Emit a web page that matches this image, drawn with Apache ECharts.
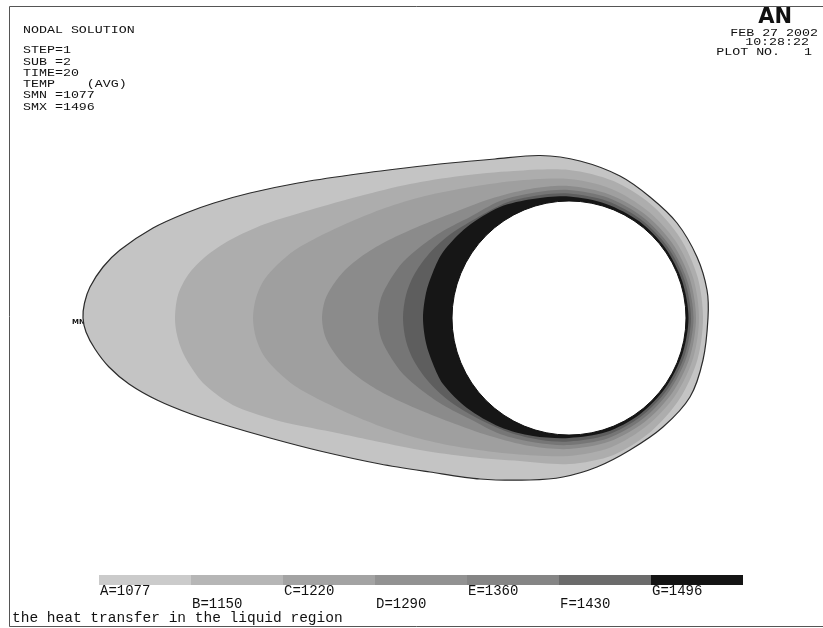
<!DOCTYPE html>
<html><head><meta charset="utf-8">
<script src="https://cdn.jsdelivr.net/npm/echarts@6/dist/echarts.min.js"></script>
<style>html,body{margin:0;padding:0;background:#fff}#c{width:823px;height:628px}</style>
</head><body><div id="c"></div>
<script>
// ---- legend / contour levels ----
const bandNames = ['A','B','C','D','E','F','G'];
const bandValues = [1077,1150,1220,1290,1360,1430,1496];
const bandColors = ['#c4c4c4','#adadad','#9f9f9f','#8b8b8b','#767676','#5e5e5e','#161616'];
const legendColors = ['#cbcbcb','#b6b6b6','#a3a3a3','#929292','#858585','#6b6b6b','#141414'];

// ---- contour boundaries (model units, hole centre at 0,0) ----
const contourA = [[-48.6,0],[-48.45,1.5],[-47.9,3.1],[-46.6,5.1],[-44.9,6.8],[-41.6,9.0],[-38.3,10.5],[-35.5,11.5],[-31.9,12.5],[-27.1,13.5],[-21.9,14.3],[-16.4,15.0],[-11.9,15.5],[-7.4,15.9],[-2.9,16.25],[1.1,15.7],[5.1,14.2],[8.1,12.1],[10.8,9.5],[12.8,6.1],[13.8,2.8],[13.9,0],[13.4,-4.2],[12.1,-7.9],[9.4,-10.9],[6.1,-13.2],[2.8,-14.9],[-0.6,-15.9],[-3.9,-16.2],[-8.9,-16.1],[-13.9,-15.4],[-18.9,-14.6],[-24.9,-13.3],[-29.9,-12.0],[-34.4,-10.7],[-37.8,-9.6],[-41.2,-8.2],[-44.0,-6.6],[-46.0,-4.9],[-47.4,-3.1],[-48.3,-1.4]];
const contourB = [[-39.4,0],[-39.1,2.3],[-38.1,4.3],[-36.4,6.1],[-33.9,7.8],[-30.4,9.4],[-25.9,10.8],[-20.9,12.2],[-15.9,13.4],[-10.9,14.2],[-5.5,14.7],[0,14.8],[4.45,13.69],[8.23,11.33],[11.08,8.06],[12.84,4.17],[13.4,0],[12.84,-4.17],[11.08,-8.06],[8.23,-11.33],[4.45,-13.69],[0,-14.6],[-4.9,-14.3],[-9.9,-13.9],[-14.9,-13.2],[-19.9,-12.2],[-23.2,-11.5],[-28.2,-10.5],[-30.7,-9.8],[-33.2,-8.9],[-34.9,-7.9],[-36.6,-6.5],[-37.6,-5.2],[-38.6,-3.5],[-39.2,-1.7]];
const contourC = [[-31.6,0],[-31.3,2.0],[-30.5,3.8],[-29.2,5.3],[-27.4,6.8],[-24.9,8.2],[-21.9,9.6],[-18.4,11.0],[-14.4,12.2],[-10.4,13.0],[-5.5,13.7],[0,13.9],[4.20,12.93],[7.82,10.76],[10.64,7.73],[12.41,4.03],[13.0,0],[12.41,-4.03],[10.64,-7.73],[7.82,-10.76],[4.20,-12.93],[0,-13.8],[-5.5,-13.6],[-10.4,-13.0],[-14.4,-12.2],[-18.4,-11.0],[-21.9,-9.6],[-24.9,-8.2],[-27.4,-6.8],[-29.2,-5.3],[-30.5,-3.8],[-31.3,-2.0]];
const contourD = [[-24.7,0],[-24.4,1.8],[-23.6,3.3],[-22.4,4.8],[-20.7,6.2],[-18.4,7.6],[-15.4,9.0],[-11.9,10.4],[-7.9,11.9],[-3.9,12.9],[0,13.2],[4.02,12.36],[7.56,10.40],[10.31,7.50],[12.08,3.92],[12.7,0],[12.08,-3.92],[10.31,-7.50],[7.56,-10.40],[4.02,-12.36],[0,-13.1],[-3.9,-12.8],[-7.9,-11.8],[-11.9,-10.4],[-15.4,-9.0],[-18.4,-7.6],[-20.7,-6.2],[-22.4,-4.8],[-23.6,-3.3],[-24.4,-1.8]];
const contourE = [[-19.1,0],[-18.8,2.0],[-17.9,3.8],[-16.6,5.6],[-14.9,7.1],[-12.6,8.7],[-9.9,10.1],[-6.9,11.7],[-3.4,12.55],[0,12.8],[3.91,12.03],[7.35,10.11],[10.03,7.29],[11.79,3.83],[12.45,0],[11.79,-3.83],[10.03,-7.29],[7.35,-10.11],[3.91,-12.03],[0,-12.7],[-3.4,-12.45],[-6.9,-11.6],[-9.9,-10.1],[-12.6,-8.7],[-14.9,-7.1],[-16.6,-5.6],[-17.9,-3.8],[-18.8,-2.0]];
const contourF = [[-16.6,0],[-16.3,2.3],[-15.5,4.3],[-14.1,6.3],[-12.1,8.2],[-9.4,9.9],[-6.1,11.6],[-2.8,12.3],[0,12.45],[3.80,11.70],[7.17,9.87],[9.83,7.14],[11.56,3.75],[12.2,0],[11.56,-3.75],[9.83,-7.14],[7.17,-9.87],[3.80,-11.70],[0,-12.35],[-2.8,-12.2],[-6.1,-11.4],[-9.4,-9.9],[-12.1,-8.2],[-14.1,-6.3],[-15.5,-4.3],[-16.3,-2.3]];
const contourG = [[-14.6,0],[-14.3,2.5],[-13.6,4.6],[-12.6,6.6],[-10.2,9.1],[-6.9,11.1],[-3.6,11.9],[0,12.15],[3.71,11.41],[7.03,9.67],[9.63,7.00],[11.32,3.68],[11.95,0],[11.32,-3.68],[9.63,-7.00],[7.03,-9.67],[3.71,-11.41],[0,-12.0],[-3.6,-11.8],[-6.9,-10.9],[-10.2,-9.0],[-12.6,-6.6],[-13.6,-4.6],[-14.3,-2.5]];
const contours = [contourA, contourB, contourC, contourD, contourE, contourF, contourG];
const hole = [0, 0, 11.7]; // centre x, centre y, radius

// ---- header texts ----
const headerLeft = ['STEP=1','SUB =2','TIME=20','TEMP    (AVG)','SMN =1077','SMX =1496'];
const headerRight = ['FEB 27 2002','10:28:22','PLOT NO.   1'];

const PX = 10; // pixels per model unit
const CX = 569, CY = 318; // pixel position of the hole centre
const W = 823, H = 628;

const chart = echarts.init(document.getElementById('c'), null, {renderer:'canvas'});
const mono = 'Liberation Mono';
const hdrFont = '13.3px "' + mono + '"';

const graphics = [
  {type:'rect', shape:{x:9.5, y:6.5, width:830, height:620}, style:{fill:null, stroke:'#555', lineWidth:1}, z:0, silent:true},
  {type:'text', x:23, y:30, scaleY:0.82, style:{text:'NODAL SOLUTION', font:hdrFont, fill:'#111', textVerticalAlign:'middle'}},
  {type:'text', x:792, y:18, style:{text:'AN', font:'900 21px "DejaVu Sans"', fill:'#111', textAlign:'right', textVerticalAlign:'middle'}},
  {type:'text', x:72, y:322, style:{text:'MN', font:'bold 7px "DejaVu Sans"', fill:'#111', textVerticalAlign:'middle'}},
  {type:'text', x:12, y:618, style:{text:'the heat transfer in the liquid region', font:'14.5px "'+mono+'"', fill:'#111', textVerticalAlign:'middle'}}
];
const leftY = [50,62,73,84,95,107];
headerLeft.forEach((t,i)=>graphics.push({type:'text', x:23, y:leftY[i], scaleY:0.82, style:{text:t, font:hdrFont, fill:'#111', textVerticalAlign:'middle'}}));
const rightY = [33,42,52];
const rightX = [818,809,812];
headerRight.forEach((t,i)=>graphics.push({type:'text', x:rightX[i], y:rightY[i], scaleY:0.78, style:{text:t, font:hdrFont, fill:'#111', textAlign:'right', textVerticalAlign:'middle'}}));

const option = {
  animation:false,
  backgroundColor:'#fff',
  grid:[
    {left:0, top:0, width:W, height:H},
    {left:99, top:575, width:644, height:10}
  ],
  xAxis:[
    {type:'value', gridIndex:0, min:-CX/PX, max:(W-CX)/PX, show:false},
    {type:'category', gridIndex:1, data:bandNames, show:false}
  ],
  yAxis:[
    {type:'value', gridIndex:0, min:-(H-CY)/PX, max:CY/PX, show:false},
    {type:'value', gridIndex:1, min:0, max:1, show:false}
  ],
  graphic:graphics,
  series:[
    {
      type:'custom', xAxisIndex:0, yAxisIndex:0, clip:false, silent:true,
      data: contours.map((c,i)=>[c[0][0], c[0][1], i]),
      renderItem:(params, api)=>{
        const i = api.value(2);
        const pts = contours[i].map(p=>api.coord(p));
        return {type:'polygon', shape:{points:pts, smooth:0.3},
          style:{fill:bandColors[i], stroke: i===0 ? '#2b2b2b' : null, lineWidth: i===0 ? 1.2 : 0}};
      }
    },
    {
      type:'custom', xAxisIndex:0, yAxisIndex:0, clip:false, silent:true,
      data:[hole],
      renderItem:(params, api)=>{
        const c = api.coord([api.value(0), api.value(1)]);
        const r = api.size([api.value(2), 0])[0];
        return {type:'circle', shape:{cx:c[0], cy:c[1], r:r}, style:{fill:'#fff', stroke:'#111', lineWidth:1}};
      }
    },
    {
      type:'bar', xAxisIndex:1, yAxisIndex:1, barWidth:'100%', silent:true,
      data: bandNames.map((n,i)=>({
        value:1,
        itemStyle:{color:legendColors[i]},
        label:{show:true, formatter:n+'='+bandValues[i], position:[1, i%2 ? 22 : 9],
          align:'left', verticalAlign:'top', fontFamily:mono, fontSize:14, color:'#111'}
      }))
    }
  ]
};
chart.setOption(option);
</script>
</body></html>
